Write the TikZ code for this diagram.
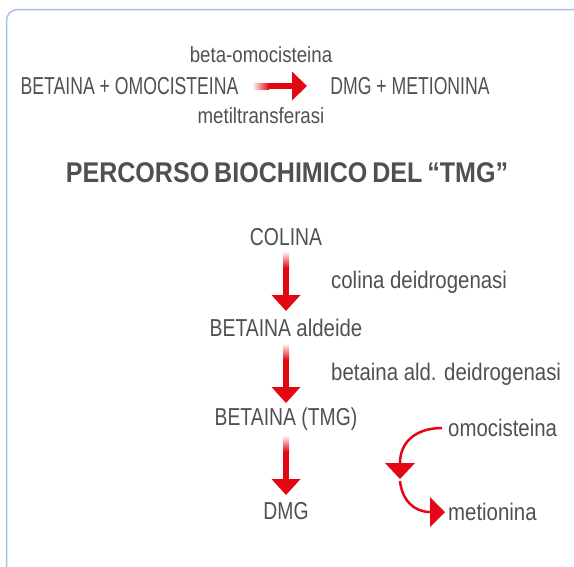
\documentclass[tikz,border=0pt]{standalone}
\usepackage{fontspec}
\setmainfont{Liberation Sans}[FakeStretch=0.85]
\newfontfamily\capf{Liberation Sans}[FakeStretch=0.79]
\newfontfamily\topcapf{Liberation Sans}[FakeStretch=0.72]
\newfontfamily\headfont{Liberation Sans}[FakeStretch=0.88,WordSpace=0.7]
\usetikzlibrary{calc}
\definecolor{tred}{HTML}{E30613}
\definecolor{tgray}{HTML}{505050}
\definecolor{tblue}{HTML}{A9C1EA}
\newcommand{\lowsz}{\rmfamily\fontsize{24}{26}\selectfont}
\newcommand{\capsz}{\capf\fontsize{24.5}{26}\selectfont}
\tikzset{
  base/.style={text=tgray,inner sep=0pt,anchor=center},
  topcaps/.style={base,font=\topcapf\fontsize{24.5}{26}\selectfont},
  toplow/.style={base,font=\fontsize{22}{24}\selectfont},
  pcaps/.style={base,font=\capsz},
  plow/.style={base,anchor=west,font=\lowsz},
  head/.style={base,font=\headfont\bfseries\fontsize{28.5}{30}\selectfont},
  redfill/.style={fill=tred,draw=none},
  curv/.style={draw=tred,line width=2.5pt}
}
\begin{document}
\begin{tikzpicture}[x=1pt,y=-1pt]
\useasboundingbox (0,0) rectangle (574,566);
\draw[tblue,line width=1.5pt,rounded corners=11pt] (6.5,9.5) rectangle (590,590);

% top reaction
\node[toplow] (bo) at (261,55) {beta-omocisteina};
\node[topcaps] (left) at (129.5,86) {BETAINA + OMOCISTEINA};
\node[topcaps] (right) at (410,86) {DMG + METIONINA};
\node[toplow] (mt) at (261,116) {metiltransferasi};
\coordinate (hA) at (253,86);
\coordinate (hB) at (307,86);
\shade[left color=tred!5,right color=tred,draw=none] ($(hA)+(0,-3)$) rectangle ($(hA)+(16,3)$);
\fill[tred] ($(hA)+(15.5,-3)$) rectangle ($(hB)+(-15,3)$);
\fill[redfill] ($(hB)+(-15,-14.5)$) -- (hB) -- ($(hB)+(-15,14.5)$) -- cycle;

% heading
\node[head] (title) at (287,173) {PERCORSO BIOCHIMICO DEL “TMG”};

% pathway
\node[pcaps] (colina) at (286,237) {COLINA};
\node[pcaps] (bald) at (286,328) {BETAINA {\lowsz aldeide}};
\node[pcaps] (tmg) at (286,419) {BETAINA (TMG)};
\node[pcaps] (dmg) at (286,511) {DMG};
\node[plow] (e1) at (331,282) {colina deidrogenasi};
\node[plow] (e2) at (331,374) {betaina ald. deidrogenasi};
\node[plow] (omo) at (448,428) {omocisteina};
\node[plow] (met) at (448,512) {metionina};

% vertical fat arrows
\foreach \a/\b/\y/\z in {colina/bald/252/311, bald/tmg/344/403, tmg/dmg/436/495}{
  \coordinate (s) at (286,\y);
  \coordinate (t) at (286,\z);
  \shade[top color=tred!5,bottom color=tred,draw=none] ($(s)+(-3,0)$) rectangle ($(s)+(3,16)$);
  \fill[tred] ($(s)+(-3,15.5)$) rectangle ($(t)+(3,-16)$);
  \fill[redfill] ($(t)+(-14.5,-16)$) -- (t) -- ($(t)+(14.5,-16)$) -- cycle;
}

% curved side arrows
\coordinate (c1) at ($(omo.west)+(-6,0)$);
\coordinate (mid) at (400,463);
\coordinate (midb) at (400,481);
\coordinate (c2) at ($(met.west)+(-18,0)$);
\draw[curv] (c1) .. controls (416,428) and (400,442) .. (mid);
\fill[redfill] ($(mid)+(-15,0)$) -- ($(mid)+(15,0)$) -- ($(mid)+(0,16)$) -- cycle;
\draw[curv] (midb) .. controls (402,500) and (414,512) .. (c2);
\fill[redfill] ($(c2)+(0,-15)$) -- ($(c2)+(15,0)$) -- ($(c2)+(0,15)$) -- cycle;
\end{tikzpicture}
\end{document}
